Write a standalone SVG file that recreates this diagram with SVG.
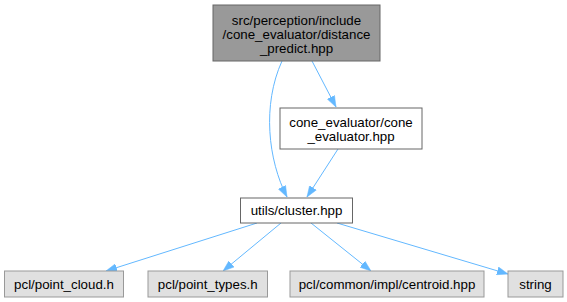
<svg xmlns="http://www.w3.org/2000/svg" width="567" height="302" viewBox="0 0 567 302">
  <style>
    .lbl { font-family: "Liberation Sans", Arial, Helvetica, sans-serif; font-size: 13.3px; fill: #000000; text-anchor: middle; }
    .main rect { fill: #999999; stroke: #666666; stroke-width: 1; }
    .local rect { fill: #ffffff; stroke: #666666; stroke-width: 1; }
    .ext rect { fill: #e0e0e0; stroke: #999999; stroke-width: 1; }
    .edge { fill: none; stroke: #63b8ff; stroke-width: 1; }
  </style>
  <defs>
    <marker id="arrow" markerUnits="userSpaceOnUse" markerWidth="11" markerHeight="9" refX="11" refY="4.5" orient="auto">
      <path d="M0,0.5 L11,4.5 L0,8.5 z" fill="#63b8ff" stroke="#63b8ff" stroke-width="0.5"/>
    </marker>
  </defs>

  <g id="edges">
    <path class="edge" marker-end="url(#arrow)" d="M282,61 C262,105 268,160 287,197"/>
    <path class="edge" marker-end="url(#arrow)" d="M312,61 L336,107"/>
    <path class="edge" marker-end="url(#arrow)" d="M338,149 L307,197"/>
    <path class="edge" marker-end="url(#arrow)" d="M257,223 L106,271"/>
    <path class="edge" marker-end="url(#arrow)" d="M281,223 L223,271"/>
    <path class="edge" marker-end="url(#arrow)" d="M311,223 L371,271"/>
    <path class="edge" marker-end="url(#arrow)" d="M337,223 L508,274"/>
  </g>

  <g id="node-distance-predict" class="main">
    <rect x="213" y="5" width="167" height="56"/>
    <text class="lbl" x="296.5" y="25">src/perception/include</text>
    <text class="lbl" x="296.5" y="39">/cone_evaluator/distance</text>
    <text class="lbl" x="296.5" y="53">_predict.hpp</text>
  </g>

  <g id="node-cone-evaluator" class="local">
    <rect x="280" y="108" width="142" height="41"/>
    <text class="lbl" x="351" y="127">cone_evaluator/cone</text>
    <text class="lbl" x="351" y="141">_evaluator.hpp</text>
  </g>

  <g id="node-cluster" class="local">
    <rect x="240.5" y="198" width="112" height="25"/>
    <text class="lbl" x="296.5" y="215">utils/cluster.hpp</text>
  </g>

  <g id="node-point-cloud" class="ext">
    <rect x="4.5" y="271" width="119" height="26"/>
    <text class="lbl" x="64" y="289">pcl/point_cloud.h</text>
  </g>

  <g id="node-point-types" class="ext">
    <rect x="148" y="271" width="119.5" height="26"/>
    <text class="lbl" x="207.75" y="289">pcl/point_types.h</text>
  </g>

  <g id="node-centroid" class="ext">
    <rect x="290" y="271" width="194" height="26"/>
    <text class="lbl" x="387" y="289">pcl/common/impl/centroid.hpp</text>
  </g>

  <g id="node-string" class="ext">
    <rect x="508" y="271" width="55" height="26"/>
    <text class="lbl" x="535.5" y="289">string</text>
  </g>
</svg>
